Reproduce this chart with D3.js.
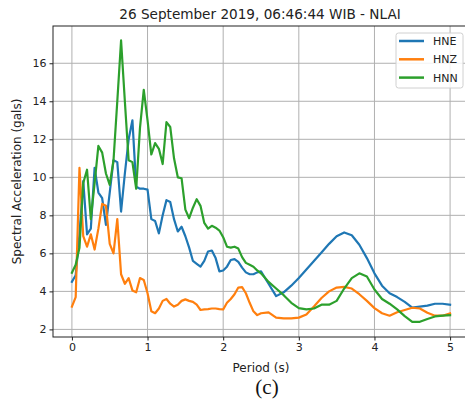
<!DOCTYPE html>
<html>
<head>
<meta charset="utf-8">
<script src="https://cdn.jsdelivr.net/npm/d3@7"></script>
<style>
  body { margin: 0; background: #fff; }
  svg { display: block; font-family: "DejaVu Sans", sans-serif; }
</style>
</head>
<body>
<div id="chart"></div>
<script>
const periods = [
  0, 0.05, 0.1, 0.15, 0.2, 0.25, 0.3, 0.35, 0.4, 0.45,
  0.5, 0.55, 0.6, 0.65, 0.7, 0.75, 0.8, 0.85, 0.9, 0.95,
  1.0, 1.05, 1.1, 1.15, 1.2, 1.25, 1.3, 1.35, 1.4, 1.45,
  1.5, 1.55, 1.6, 1.65, 1.7, 1.75, 1.8, 1.85, 1.9, 1.95,
  2.0, 2.05, 2.1, 2.15, 2.2, 2.25, 2.3, 2.35, 2.4, 2.45,
  2.5, 2.6, 2.7, 2.8, 2.9, 3.0, 3.1, 3.2, 3.3, 3.4,
  3.5, 3.6, 3.7, 3.8, 3.9, 4.0, 4.1, 4.2, 4.3, 4.4,
  4.5, 4.6, 4.7, 4.8, 4.9, 5.0
]

const hne = [
  4.5, 4.85, 7.0, 9.8, 7.0, 7.3, 10.5, 9.2, 8.9, 7.5,
  9.2, 10.9, 10.8, 8.2, 10.2, 12.0, 13.0, 9.5, 9.4, 9.4,
  9.35, 7.8, 7.7, 7.05, 8.0, 8.8, 8.7, 7.8, 7.15, 7.4,
  6.9, 6.3, 5.6, 5.45, 5.3, 5.6, 6.1, 6.15, 5.75, 5.05,
  5.1, 5.3, 5.65, 5.7, 5.55, 5.25, 5.0, 4.9, 4.9, 5.0,
  5.05, 4.4, 3.75, 3.95, 4.3, 4.7, 5.15, 5.6, 6.05, 6.5,
  6.9, 7.1, 6.95, 6.45, 5.75, 4.95, 4.3, 3.9, 3.7, 3.45,
  3.15, 3.2, 3.25, 3.35, 3.35, 3.3
]

const hnz = [
  3.2, 3.7, 10.5, 6.9, 6.35, 7.0, 6.2, 7.3, 8.6, 8.5,
  6.5, 6.0, 7.8, 4.9, 4.4, 4.7, 4.05, 3.95, 4.7, 4.6,
  3.9, 2.95, 2.85, 3.1, 3.5, 3.6, 3.35, 3.2, 3.3, 3.5,
  3.58, 3.5, 3.45, 3.3, 3.02, 3.05, 3.07, 3.1, 3.1, 3.07,
  3.05, 3.4, 3.6, 3.85, 4.2, 4.22, 3.9, 3.4, 2.95, 2.75,
  2.85, 2.9, 2.62, 2.58, 2.58, 2.62, 2.78, 3.2, 3.65, 4.0,
  4.2, 4.24, 4.15, 3.85, 3.5, 3.12, 2.85, 2.72, 2.9, 3.02,
  3.14, 3.1, 2.88, 2.72, 2.72, 2.84
]

const hnn = [
  4.98, 5.4, 6.3, 9.7, 10.4, 7.8, 9.7, 11.65, 11.3, 10.2,
  9.6, 10.9, 14.0, 17.2, 14.0, 10.9, 10.8, 9.4, 12.6, 14.6,
  13.0, 11.2, 11.8, 11.5, 10.7, 12.9, 12.65, 11.0, 10.0, 9.95,
  8.3, 7.85, 8.4, 8.85, 8.5, 7.6, 7.3, 7.45, 7.35, 7.2,
  6.85, 6.35, 6.3, 6.35, 6.25, 5.8, 5.5, 5.4, 5.3, 5.1,
  4.95, 4.5, 4.15, 3.8, 3.4, 3.12, 3.05, 3.1, 3.3, 3.3,
  3.5, 4.15, 4.7, 4.95, 4.78, 4.1, 3.6, 3.35, 3.05, 2.7,
  2.4, 2.4, 2.55, 2.68, 2.72, 2.75
]

const seriesNames = ['HNE', 'HNZ', 'HNN']
const seriesColors = ['#1f77b4', '#ff7f0e', '#2ca02c']
const xTicks = [0, 1, 2, 3, 4, 5]
const yTicks = [2, 4, 6, 8, 10, 12, 14, 16]

function drawChart() {
    var W = 465, H = 401
    var left = 53, top = 26, right = 469, bottom = 337

    var svg = d3.select('#chart').append('svg')
        .attr('width', W).attr('height', H)

    var x = d3.scaleLinear().domain([-0.25, 5.25]).range([left, right])
    var y = d3.scaleLinear().domain([1.6, 17.96]).range([bottom, top])

    // grid
    svg.append('g').selectAll('line').data(xTicks).enter().append('line')
        .attr('x1', d => x(d)).attr('x2', d => x(d))
        .attr('y1', top).attr('y2', bottom)
        .attr('stroke', '#b0b0b0').attr('stroke-width', 1)
    svg.append('g').selectAll('line').data(yTicks).enter().append('line')
        .attr('x1', left).attr('x2', right)
        .attr('y1', d => y(d)).attr('y2', d => y(d))
        .attr('stroke', '#b0b0b0').attr('stroke-width', 1)

    // lines
    var allSeries = [hne, hnz, hnn]
    var line = d3.line()
        .x((d, i) => x(periods[i]))
        .y(d => y(d))
    svg.append('g').selectAll('path').data(allSeries).enter().append('path')
        .attr('d', d => line(d))
        .attr('fill', 'none')
        .attr('stroke', (d, i) => seriesColors[i])
        .attr('stroke-width', 2.2)
        .attr('stroke-linejoin', 'round')
        .attr('stroke-linecap', 'square')

    // axes
    var xAxis = svg.append('g')
        .attr('transform', 'translate(0,' + bottom + ')')
        .call(d3.axisBottom(x).tickValues(xTicks).tickSize(3.5).tickPadding(3).tickFormat(d3.format('d')))
    var yAxis = svg.append('g')
        .attr('transform', 'translate(' + left + ',0)')
        .call(d3.axisLeft(y).tickValues(yTicks).tickSize(3.5).tickPadding(3).tickFormat(d3.format('d')))
    ;[xAxis, yAxis].forEach(function (a) {
        a.select('.domain').remove()
        a.selectAll('text').attr('font-size', '11px').attr('fill', '#222').attr('font-family', 'DejaVu Sans')
        a.selectAll('line').attr('stroke', '#222')
    })

    // spines
    svg.append('rect')
        .attr('x', left).attr('y', top)
        .attr('width', right - left).attr('height', bottom - top)
        .attr('fill', 'none').attr('stroke', '#222').attr('stroke-width', 1)

    // legend
    var lg = svg.append('g')
    lg.append('rect')
        .attr('x', 396).attr('y', 33).attr('width', 67).attr('height', 55)
        .attr('rx', 2.5)
        .attr('fill', 'white').attr('fill-opacity', 0.85)
        .attr('stroke', '#d0d0d0')
    seriesNames.forEach(function (name, i) {
        var ly = 41 + i * 18.3
        lg.append('line')
            .attr('x1', 399).attr('x2', 424)
            .attr('y1', ly).attr('y2', ly)
            .attr('stroke', seriesColors[i]).attr('stroke-width', 2.5)
        lg.append('text')
            .attr('x', 433).attr('y', ly + 4)
            .attr('font-size', '11px').attr('fill', '#222')
            .text(name)
    })

    // titles
    svg.append('text')
        .attr('x', 260).attr('y', 19)
        .attr('text-anchor', 'middle')
        .attr('font-size', '13.6px').attr('fill', '#222')
        .text('26 September 2019, 06:46:44 WIB - NLAI')
    svg.append('text')
        .attr('x', 261).attr('y', 372)
        .attr('text-anchor', 'middle')
        .attr('font-size', '12px').attr('fill', '#222')
        .text('Period (s)')
    svg.append('text')
        .attr('transform', 'translate(21,' + ((top + bottom) / 2) + ') rotate(-90)')
        .attr('text-anchor', 'middle')
        .attr('font-size', '12px').attr('fill', '#222')
        .text('Spectral Acceleration (gals)')
    svg.append('text')
        .attr('x', 267).attr('y', 394)
        .attr('text-anchor', 'middle')
        .attr('font-family', 'Liberation Serif, serif')
        .attr('font-size', '21px').attr('fill', '#111')
        .text('(c)')
}

drawChart()
</script>
</body>
</html>
